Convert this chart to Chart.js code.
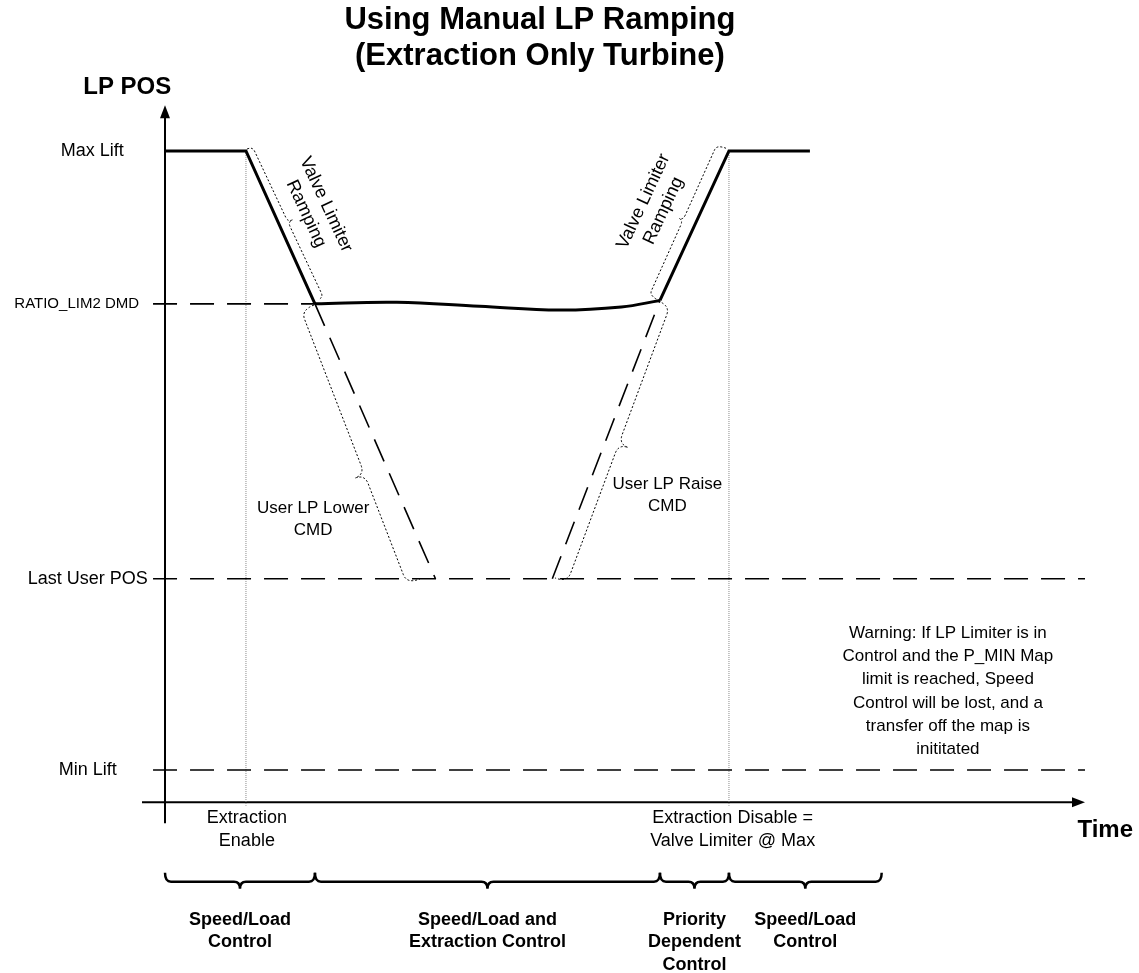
<!DOCTYPE html>
<html>
<head>
<meta charset="utf-8">
<script src="https://cdn.jsdelivr.net/npm/chart.js@4"></script>
<style>
  html, body { margin: 0; padding: 0; background: #fff; }
  #wrap { width: 1139px; height: 973px; }
</style>
</head>
<body>
<div id="wrap"><canvas id="myChart"></canvas></div>
<script>
// levels on the LP POS axis (Min Lift = 0, Max Lift = 100)
const levelNames = ['Max Lift', 'RATIO_LIM2 DMD', 'Last User POS', 'Min Lift'];
const levelPos = [100, 75.3, 30.9, 0];

// event times on the time axis
const eventTimes = [8.8, 61.3];
const eventNames = [['Extraction', 'Enable'], ['Extraction Disable =', 'Valve Limiter @ Max']];

// LP valve position trace
const rampDownT = [0, 8.8, 16.3];
const rampDownPos = [100, 100, 75.3];
const extractionT = [16.3, 25.2, 34.2, 42.9, 49.6, 53.8];
const extractionPos = [75.3, 75.55, 74.9, 74.3, 74.8, 75.85];
const rampUpT = [53.8, 61.3, 70.1];
const rampUpPos = [75.85, 100, 100];

// user commands (dashed)
const userLowerT = [16.3, 29.4];
const userLowerPos = [75.3, 30.9];
const userRaiseT = [42.1, 53.8];
const userRaisePos = [30.9, 75.85];

// control phases shown under the time axis
const phaseBounds = [0, 16.3, 53.8, 61.3, 77.9];
const phaseNames = [
    ['Speed/Load', 'Control'],
    ['Speed/Load and', 'Extraction Control'],
    ['Priority', 'Dependent', 'Control'],
    ['Speed/Load', 'Control']
];

const titleLines = ['Using Manual LP Ramping', '(Extraction Only Turbine)'];
const warningLines = [
    'Warning: If LP Limiter is in',
    'Control and the P_MIN Map',
    'limit is reached, Speed',
    'Control will be lost, and a',
    'transfer off the map is',
    'inititated'
];

const FONT = '"Liberation Sans", Arial, sans-serif';
const pts = (ts, vs) => ts.map((t, i) => ({ x: t, y: vs[i] }));

const solid = { borderColor: '#000', borderWidth: 3, tension: 0, borderJoinStyle: 'miter' };
const dashed = { borderColor: '#000', borderWidth: 1.6, borderDash: [24, 13], tension: 0 };
const guide = { borderColor: '#888', borderWidth: 1, borderDash: [1, 1], tension: 0 };
const axisLine = { borderColor: '#000', borderWidth: 2, tension: 0 };

const xAxisY = -5.2;
const timeEnd = 100;
const levelStart = -1.3;

function brace(ctx, a, b, body, tip, r, f) {
    const dx = b[0] - a[0], dy = b[1] - a[1], len = Math.hypot(dx, dy);
    const ux = dx / len, uy = dy / len, nx = -uy, ny = ux;
    const P = (s, o) => [a[0] + ux * s + nx * o, a[1] + uy * s + ny * o];
    const m = f * len;
    ctx.beginPath();
    ctx.moveTo(...P(0, 0));
    ctx.quadraticCurveTo(...P(0, body), ...P(r, body));
    ctx.lineTo(...P(m - r, body));
    ctx.quadraticCurveTo(...P(m, body), ...P(m, tip));
    ctx.quadraticCurveTo(...P(m, body), ...P(m + r, body));
    ctx.lineTo(...P(len - r, body));
    ctx.quadraticCurveTo(...P(len, body), ...P(len, 0));
    ctx.stroke();
}

function textBlock(ctx, lines, x, y, lh, size, bold) {
    ctx.font = (bold ? 'bold ' : '') + size + 'px ' + FONT;
    lines.forEach((s, i) => ctx.fillText(s, x, y + i * lh));
}

const overlay = {
    id: 'overlay',
    afterDatasetsDraw(chart) {
        const { ctx, scales: { x, y } } = chart;
        const px = t => x.getPixelForValue(t);
        const py = v => y.getPixelForValue(v);
        ctx.save();
        ctx.fillStyle = '#000';
        ctx.strokeStyle = '#000';
        ctx.textAlign = 'center';
        ctx.textBaseline = 'middle';

        // arrow heads
        const ax = px(timeEnd), ay = py(xAxisY);
        ctx.beginPath();
        ctx.moveTo(ax, ay); ctx.lineTo(ax - 13, ay - 5); ctx.lineTo(ax - 13, ay + 5);
        ctx.closePath(); ctx.fill();
        const bx = px(0), by = py(107.4);
        ctx.beginPath();
        ctx.moveTo(bx, by); ctx.lineTo(bx - 5, by + 13); ctx.lineTo(bx + 5, by + 13);
        ctx.closePath(); ctx.fill();

        // title
        textBlock(ctx, titleLines, chart.width * 0.474, 20, 36, 31, true);
        textBlock(ctx, ['LP POS'], px(-4.1), py(110.2), 0, 24, true);
        textBlock(ctx, ['Time'], px(102.2), py(-9.7), 0, 24, true);

        // level labels
        const levelX = [-7.9, -9.6, -8.4, -8.4];
        const levelSize = [18, 15, 18, 18];
        levelNames.forEach((n, i) => textBlock(ctx, [n], px(levelX[i]), py(levelPos[i]), 0, levelSize[i], false));

        // event labels under the axis
        const eventX = [eventTimes[0] + 0.1, eventTimes[1] + 0.4];
        eventNames.forEach((n, i) => textBlock(ctx, n, px(eventX[i]), py(-7.8), 22.5, 18, false));

        textBlock(ctx, ['User LP Lower', 'CMD'], px(16.1), py(42.3), 22, 17, false);
        textBlock(ctx, ['User LP Raise', 'CMD'], px(54.6), py(46.2), 22, 17, false);
        textBlock(ctx, warningLines, px(85.1), py(22.1), 23.3, 17, false);

        // rotated ramp labels
        [[16.41, 90.6, 65], [53.1, 91.1, -65]].forEach(([t, v, deg]) => {
            ctx.save();
            ctx.translate(px(t), py(v));
            ctx.rotate(deg * Math.PI / 180);
            textBlock(ctx, ['Valve Limiter', 'Ramping'], 0, -11, 22, 18, false);
            ctx.restore();
        });

        // dotted braces along the ramps
        ctx.lineWidth = 1;
        ctx.setLineDash([2, 2]);
        [
            [[8.91, 100.3], [16.63, 75.93], -6, -11, 5, 0.5],
            [[53.8, 75.77], [61.2, 100.3], -12, -16, 6, 0.5],
            [[16.2, 75.12], [27.72, 30.86], 14, 24, 10, 0.6],
            [[53.59, 75.77], [42.39, 31.02], -13, -23, 10, 0.5]
        ].forEach(([a, b, body, tip, r, f]) => {
            brace(ctx, [px(a[0]), py(a[1])], [px(b[0]), py(b[1])], body, tip, r, f);
        });

        // phase braces under the axis
        ctx.setLineDash([]);
        ctx.lineWidth = 2.5;
        const braceV = -16.6;
        for (let i = 0; i < phaseNames.length; i++) {
            const x0 = px(phaseBounds[i]), x1 = px(phaseBounds[i + 1]);
            brace(ctx, [x0, py(braceV)], [x1, py(braceV)], 9, 16, 6, 0.5);
            textBlock(ctx, phaseNames[i], (x0 + x1) / 2, py(-24.2), 22.5, 18, true);
        }
        ctx.restore();
    }
};

const ctx = document.getElementById('myChart');

new Chart(ctx, {
    type: 'line',
    data: {
        datasets: [
            { data: pts(rampDownT, rampDownPos), ...solid },
            { data: pts(extractionT, extractionPos), ...solid, tension: 0.4, borderJoinStyle: 'round' },
            { data: pts(rampUpT, rampUpPos), ...solid },
            { data: pts(userLowerT, userLowerPos), ...dashed },
            { data: pts(userRaiseT, userRaisePos), ...dashed },
            { data: pts([levelStart, rampDownT[2]], [levelPos[1], levelPos[1]]), ...dashed },
            { data: pts([levelStart, timeEnd], [levelPos[2], levelPos[2]]), ...dashed },
            { data: pts([levelStart, timeEnd], [levelPos[3], levelPos[3]]), ...dashed },
            { data: pts([eventTimes[0], eventTimes[0]], [levelPos[0], -5.8]), ...guide },
            { data: pts([eventTimes[1], eventTimes[1]], [levelPos[0], -5.8]), ...guide },
            { data: pts([-2.5, timeEnd - 1], [xAxisY, xAxisY]), ...axisLine },
            { data: pts([0, 0], [-8.6, 106]), ...axisLine }
        ]
    },
    options: {
        responsive: true,
        maintainAspectRatio: false,
        animation: false,
        layout: { padding: 0 },
        elements: { point: { radius: 0, hoverRadius: 0 } },
        scales: {
            x: { type: 'linear', display: false, min: -17.935, max: 105.87 },
            y: { type: 'linear', display: false, min: -32.8, max: 124.39 }
        },
        plugins: {
            legend: { display: false },
            tooltip: { enabled: false }
        }
    },
    plugins: [overlay]
});
</script>
</body>
</html>
